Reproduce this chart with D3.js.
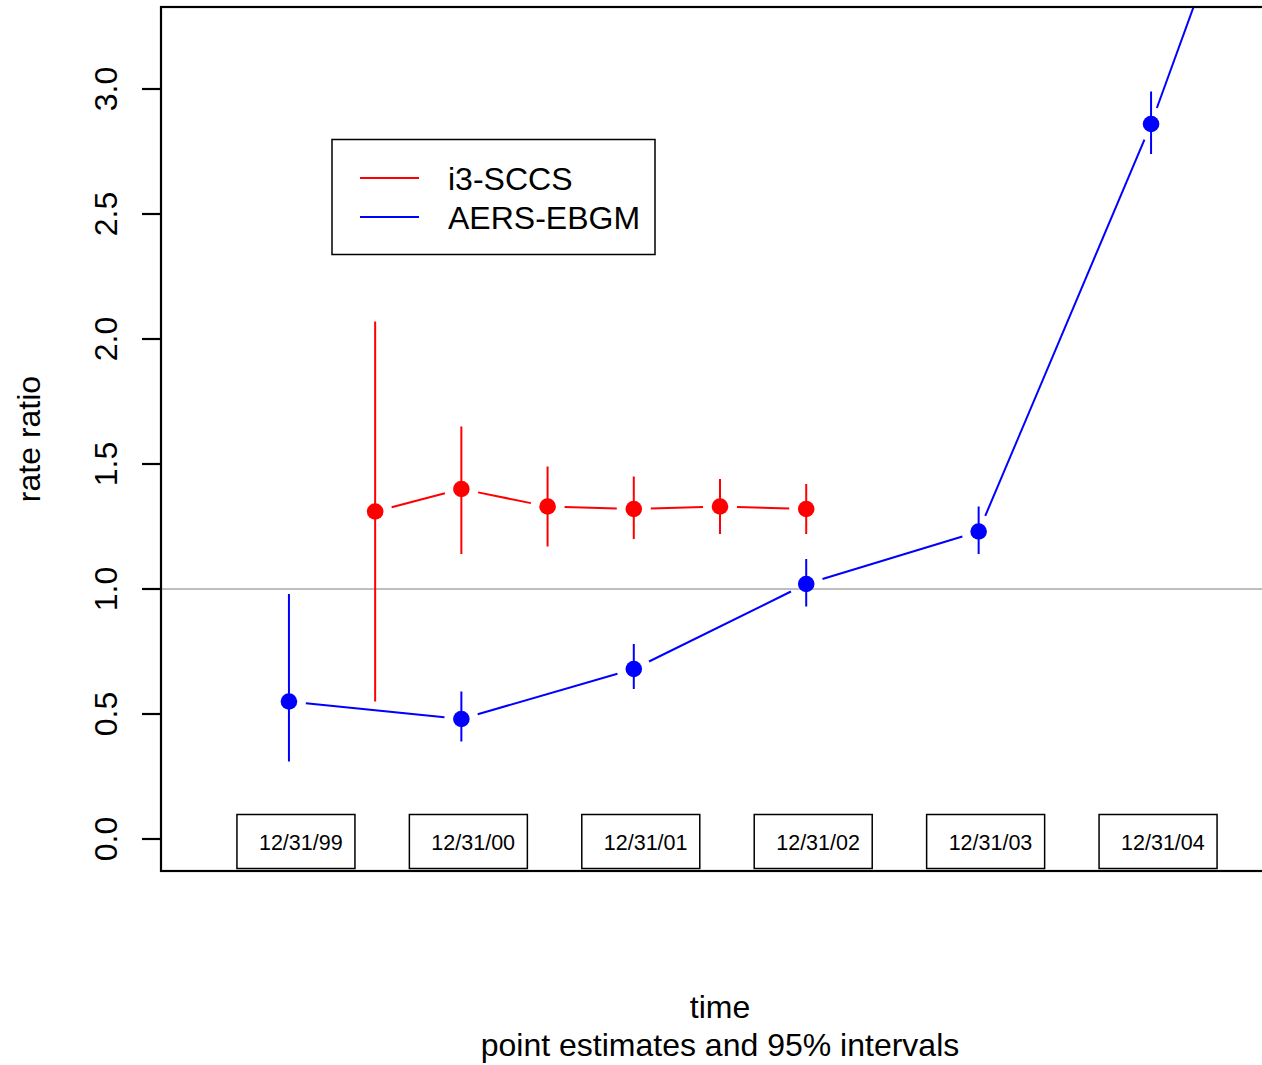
<!DOCTYPE html>
<html lang="en">
<head>
    <meta charset="UTF-8" />
    <title>rate ratio over time</title>
    <script src="https://d3js.org/d3.v7.min.js"></script>
    <style>
        body { margin: 0; background: #fff; }
        text { font-family: "Liberation Sans", Arial, Helvetica, sans-serif; fill: #000; }
    </style>
</head>

<body>
    <script>
        var w = 1262;
        var h = 1065;

        // i3-SCCS estimates (half-year steps)
        var redTimes = [1999.5, 2000, 2000.5, 2001, 2001.5, 2002];
        var redEst = [1.31, 1.40, 1.33, 1.32, 1.33, 1.32];
        var redLo = [0.55, 1.14, 1.17, 1.20, 1.22, 1.22];
        var redHi = [2.07, 1.65, 1.49, 1.45, 1.44, 1.42];

        // AERS-EBGM estimates (yearly), last one runs off the top
        var blueTimes = [1999, 2000, 2001, 2002, 2003, 2004, 2005];
        var blueEst = [0.55, 0.48, 0.68, 1.02, 1.23, 2.86, 4.76];
        var blueLo = [0.31, 0.39, 0.60, 0.93, 1.14, 2.74, 4.50];
        var blueHi = [0.98, 0.59, 0.78, 1.12, 1.33, 2.99, 5.00];

        var labelTimes = [1999, 2000, 2001, 2002, 2003, 2004];
        var dateLabels = ["12/31/99", "12/31/00", "12/31/01", "12/31/02", "12/31/03", "12/31/04"];
        var yTicks = [0, 0.5, 1.0, 1.5, 2.0, 2.5, 3.0];
        var seriesNames = ["i3-SCCS", "AERS-EBGM"];
        var seriesColors = ["#ff0000", "#0000ff"];

        // plot region (right edge falls outside the window)
        var pLeft = 161, pRight = 1279, pTop = 7, pBottom = 871;

        var svg = d3.select("body")
            .append("svg")
            .attr("width", w)
            .attr("height", h);

        var xScale = d3.scaleLinear()
            .domain([1998.258, 2004.742])
            .range([pLeft, pRight]);

        var yScale = d3.scaleLinear()
            .domain([-0.128, 3.328])
            .range([pBottom, pTop]);

        svg.append("clipPath")
            .attr("id", "plotClip")
            .append("rect")
            .attr("x", pLeft)
            .attr("y", pTop)
            .attr("width", pRight - pLeft)
            .attr("height", pBottom - pTop);

        var plot = svg.append("g").attr("clip-path", "url(#plotClip)");

        // reference line at 1
        plot.append("line")
            .attr("x1", pLeft).attr("x2", pRight)
            .attr("y1", yScale(1)).attr("y2", yScale(1))
            .attr("stroke", "#bebebe")
            .attr("stroke-width", 2);

        // date label boxes along the bottom
        var dateG = plot.selectAll(".date")
            .data(labelTimes)
            .enter()
            .append("g")
            .attr("class", "date")
            .attr("transform", function(d) { return "translate(" + xScale(d) + ",0)"; });

        dateG.append("rect")
            .attr("x", -52)
            .attr("y", 814.5)
            .attr("width", 118)
            .attr("height", 54)
            .attr("fill", "#fff")
            .attr("stroke", "#000")
            .attr("stroke-width", 1.5);

        dateG.append("text")
            .attr("x", -30)
            .attr("y", 850)
            .attr("font-size", 21.5)
            .text(function(d, i) { return dateLabels[i]; });

        // draw one series: error bars, gapped line (type = "b") and points
        function drawSeries(times, est, lo, hi, color) {
            var pts = times.map(function(t, i) {
                return { x: xScale(t), y: yScale(est[i]), lo: yScale(lo[i]), hi: yScale(hi[i]) };
            });

            plot.selectAll(null)
                .data(pts)
                .enter()
                .append("line")
                .attr("x1", function(d) { return d.x; })
                .attr("x2", function(d) { return d.x; })
                .attr("y1", function(d) { return d.lo; })
                .attr("y2", function(d) { return d.hi; })
                .attr("stroke", color)
                .attr("stroke-width", 2);

            var gap = 17;
            var segs = d3.pairs(pts).filter(function(p) {
                var dx = p[1].x - p[0].x, dy = p[1].y - p[0].y;
                return Math.sqrt(dx * dx + dy * dy) > 2 * gap;
            });

            plot.selectAll(null)
                .data(segs)
                .enter()
                .append("line")
                .each(function(p) {
                    var dx = p[1].x - p[0].x, dy = p[1].y - p[0].y;
                    var len = Math.sqrt(dx * dx + dy * dy);
                    var ux = dx / len, uy = dy / len;
                    d3.select(this)
                        .attr("x1", p[0].x + ux * gap)
                        .attr("y1", p[0].y + uy * gap)
                        .attr("x2", p[1].x - ux * gap)
                        .attr("y2", p[1].y - uy * gap);
                })
                .attr("stroke", color)
                .attr("stroke-width", 2);

            plot.selectAll(null)
                .data(pts)
                .enter()
                .append("circle")
                .attr("cx", function(d) { return d.x; })
                .attr("cy", function(d) { return d.y; })
                .attr("r", 8.3)
                .attr("fill", color);
        }

        drawSeries(blueTimes, blueEst, blueLo, blueHi, seriesColors[1]);
        drawSeries(redTimes, redEst, redLo, redHi, seriesColors[0]);

        // frame
        svg.append("rect")
            .attr("x", pLeft)
            .attr("y", pTop)
            .attr("width", pRight - pLeft)
            .attr("height", pBottom - pTop)
            .attr("fill", "none")
            .attr("stroke", "#000")
            .attr("stroke-width", 2.2);

        // y axis ticks and labels
        var yAxis = svg.append("g");
        yAxis.selectAll("line")
            .data(yTicks)
            .enter()
            .append("line")
            .attr("x1", 142).attr("x2", pLeft)
            .attr("y1", function(d) { return yScale(d); })
            .attr("y2", function(d) { return yScale(d); })
            .attr("stroke", "#000")
            .attr("stroke-width", 2.2);

        yAxis.selectAll("text")
            .data(yTicks)
            .enter()
            .append("text")
            .attr("transform", function(d) { return "translate(117," + yScale(d) + ") rotate(-90)"; })
            .attr("text-anchor", "middle")
            .attr("font-size", 32)
            .text(d3.format(".1f"));

        // axis titles
        svg.append("text")
            .attr("transform", "translate(40," + ((pTop + pBottom) / 2) + ") rotate(-90)")
            .attr("text-anchor", "middle")
            .attr("font-size", 32)
            .text("rate ratio");

        svg.append("text")
            .attr("x", (pLeft + pRight) / 2)
            .attr("y", 1018)
            .attr("text-anchor", "middle")
            .attr("font-size", 32)
            .text("time");

        svg.append("text")
            .attr("x", (pLeft + pRight) / 2)
            .attr("y", 1056)
            .attr("text-anchor", "middle")
            .attr("font-size", 32)
            .text("point estimates and 95% intervals");

        // legend
        var legend = svg.append("g");
        legend.append("rect")
            .attr("x", 332)
            .attr("y", 139.5)
            .attr("width", 323)
            .attr("height", 115)
            .attr("fill", "#fff")
            .attr("stroke", "#000")
            .attr("stroke-width", 1.5);

        var items = legend.selectAll(".item")
            .data(seriesNames)
            .enter()
            .append("g")
            .attr("class", "item")
            .attr("transform", function(d, i) { return "translate(0," + (178 + i * 39) + ")"; });

        items.append("line")
            .attr("x1", 360).attr("x2", 419)
            .attr("stroke", function(d, i) { return seriesColors[i]; })
            .attr("stroke-width", 2);

        items.append("text")
            .attr("x", 448)
            .attr("y", 12)
            .attr("font-size", 32)
            .text(function(d) { return d; });
    </script>
</body>
</html>
